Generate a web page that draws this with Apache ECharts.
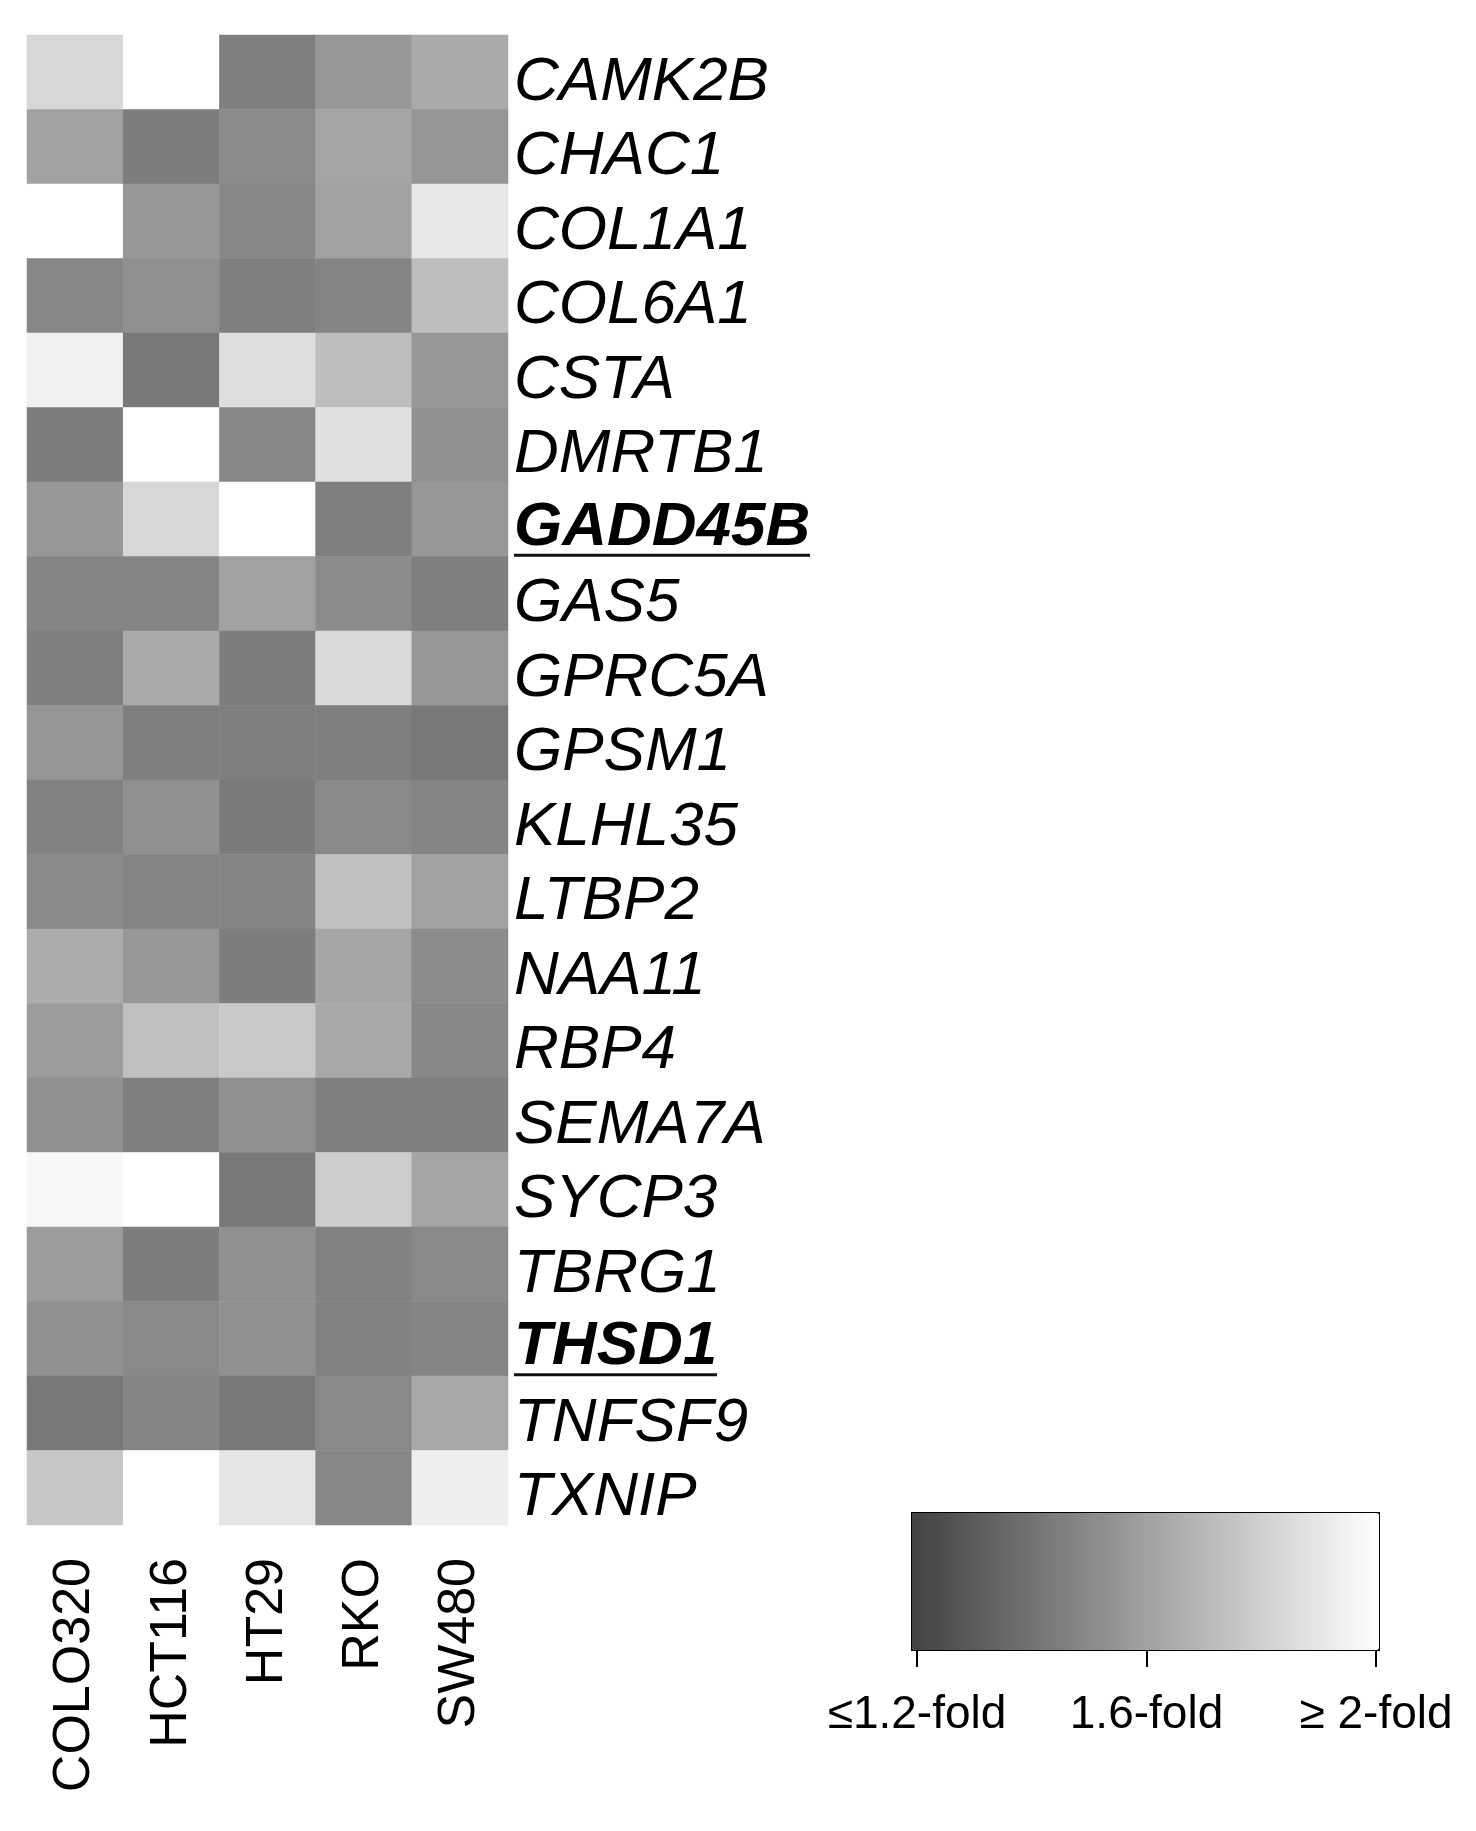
<!DOCTYPE html>
<html>
<head>
<meta charset="utf-8">
<script src="https://cdn.jsdelivr.net/npm/echarts@6/dist/echarts.min.js"></script>
<style>
    html, body {margin: 0; padding: 0; background: #fff;}
    #heatmap-chart {width: 1476px; height: 1831px;}
</style>
</head>
<body>
<div id="heatmap-chart"></div>
<script>
var genes = ['CAMK2B', 'CHAC1', 'COL1A1', 'COL6A1', 'CSTA', 'DMRTB1', 'GADD45B', 'GAS5', 'GPRC5A', 'GPSM1',
    'KLHL35', 'LTBP2', 'NAA11', 'RBP4', 'SEMA7A', 'SYCP3', 'TBRG1', 'THSD1', 'TNFSF9', 'TXNIP'];
var cellLines = ['COLO320', 'HCT116', 'HT29', 'RKO', 'SW480'];

// fold change per cell line, same order as genes
var colo320 = [1.83, 1.60, 2.00, 1.49, 1.94, 1.45, 1.56, 1.48, 1.46, 1.55, 1.47, 1.50, 1.65, 1.58, 1.53, 1.97, 1.58, 1.53, 1.43, 1.76];
var hct116 = [2.00, 1.45, 1.56, 1.53, 1.43, 2.00, 1.83, 1.48, 1.64, 1.46, 1.53, 1.48, 1.56, 1.73, 1.46, 2.00, 1.45, 1.50, 1.48, 2.00];
var ht29 = [1.46, 1.51, 1.49, 1.46, 1.86, 1.49, 2.00, 1.60, 1.45, 1.46, 1.44, 1.48, 1.45, 1.77, 1.53, 1.43, 1.53, 1.53, 1.43, 1.89];
var rko = [1.56, 1.62, 1.60, 1.48, 1.72, 1.87, 1.46, 1.51, 1.84, 1.46, 1.50, 1.73, 1.62, 1.63, 1.46, 1.79, 1.47, 1.47, 1.50, 1.49];
var sw480 = [1.64, 1.55, 1.90, 1.72, 1.56, 1.53, 1.56, 1.46, 1.56, 1.43, 1.48, 1.60, 1.51, 1.49, 1.46, 1.62, 1.50, 1.48, 1.63, 1.93];

var foldTicks = [1.2, 1.6, 2.0];
var foldTickLabels = ['≤1.2-fold', '1.6-fold', '≥ 2-fold'];
var boldGenes = ['GADD45B', 'THSD1'];

var FONT = '"Liberation Sans", Arial, sans-serif';

function buildHeatmapData() {
    var columns = [colo320, hct116, ht29, rko, sw480];
    var data = [];
    for (var i = 0; i < columns.length; i++) {
        for (var j = 0; j < genes.length; j++) {
            data.push([i, j, columns[i][j]]);
        }
    }
    return data;
}

function createHeatmapChart(id) {
    var chart = echarts.init(document.getElementById(id));
    var underlineWidth = {GADD45B: 296, THSD1: 203};
    var rich = {
        b: {fontFamily: FONT, fontSize: 62, fontStyle: 'italic', fontWeight: 'bold', color: '#000', lineHeight: 52}
    };
    for (var k = 0; k < boldGenes.length; k++) {
        rich['u' + boldGenes[k]] = {
            width: underlineWidth[boldGenes[k]], height: 3, lineHeight: 3, fontSize: 1,
            backgroundColor: '#111'
        };
    }
    var option = {
        backgroundColor: '#fff',
        animation: false,
        grid: [{
            left: 27, top: 35, width: 481, height: 1490
        }, {
            left: 917, top: 1512, width: 459, height: 137
        }],
        xAxis: [{
            type: 'category',
            gridIndex: 0,
            data: cellLines,
            position: 'bottom',
            axisLine: {show: false},
            axisTick: {show: false},
            splitLine: {show: false},
            axisLabel: {
                interval: 0,
                rotate: 90,
                margin: 33,
                fontFamily: FONT,
                fontSize: 52,
                color: '#000'
            }
        }, {
            type: 'value',
            gridIndex: 1,
            min: 1.2,
            max: 2.0,
            interval: 0.4,
            axisLine: {show: false},
            splitLine: {show: false},
            axisTick: {show: true, length: 18, lineStyle: {color: '#000', width: 2}},
            axisLabel: {
                margin: 43,
                fontFamily: FONT,
                fontSize: 46,
                color: '#000',
                showMinLabel: true,
                showMaxLabel: true,
                formatter: function (value) {
                    for (var i = 0; i < foldTicks.length; i++) {
                        if (Math.abs(foldTicks[i] - value) < 1e-6) {
                            return foldTickLabels[i];
                        }
                    }
                    return '';
                }
            }
        }],
        yAxis: [{
            type: 'category',
            gridIndex: 0,
            data: genes,
            inverse: true,
            position: 'right',
            axisLine: {show: false},
            axisTick: {show: false},
            splitLine: {show: false},
            axisLabel: {
                interval: 0,
                margin: 6,
                padding: [20, 0, 0, 0],
                fontFamily: FONT,
                fontSize: 62,
                fontStyle: 'italic',
                color: '#000',
                rich: rich,
                formatter: function (value) {
                    if (boldGenes.indexOf(value) >= 0) {
                        return '{b|' + value + '}\n{u' + value + '| }';
                    }
                    return value;
                }
            }
        }, {
            type: 'value',
            gridIndex: 1,
            show: false
        }],
        visualMap: {
            type: 'continuous',
            seriesIndex: 0,
            min: 1.2,
            max: 2.0,
            calculable: false,
            hoverLink: false,
            orient: 'horizontal',
            left: 911,
            top: 1512,
            itemWidth: 137,
            itemHeight: 467,
            padding: 0,
            borderColor: '#000',
            borderWidth: 2,
            text: null,
            inRange: {color: ['#424242', '#ffffff']}
        },
        series: [{
            type: 'heatmap',
            xAxisIndex: 0,
            yAxisIndex: 0,
            data: buildHeatmapData(),
            itemStyle: {borderWidth: 0},
            emphasis: {disabled: true}
        }]
    };
    chart.setOption(option);
    return chart;
}

createHeatmapChart('heatmap-chart');
</script>
</body>
</html>
